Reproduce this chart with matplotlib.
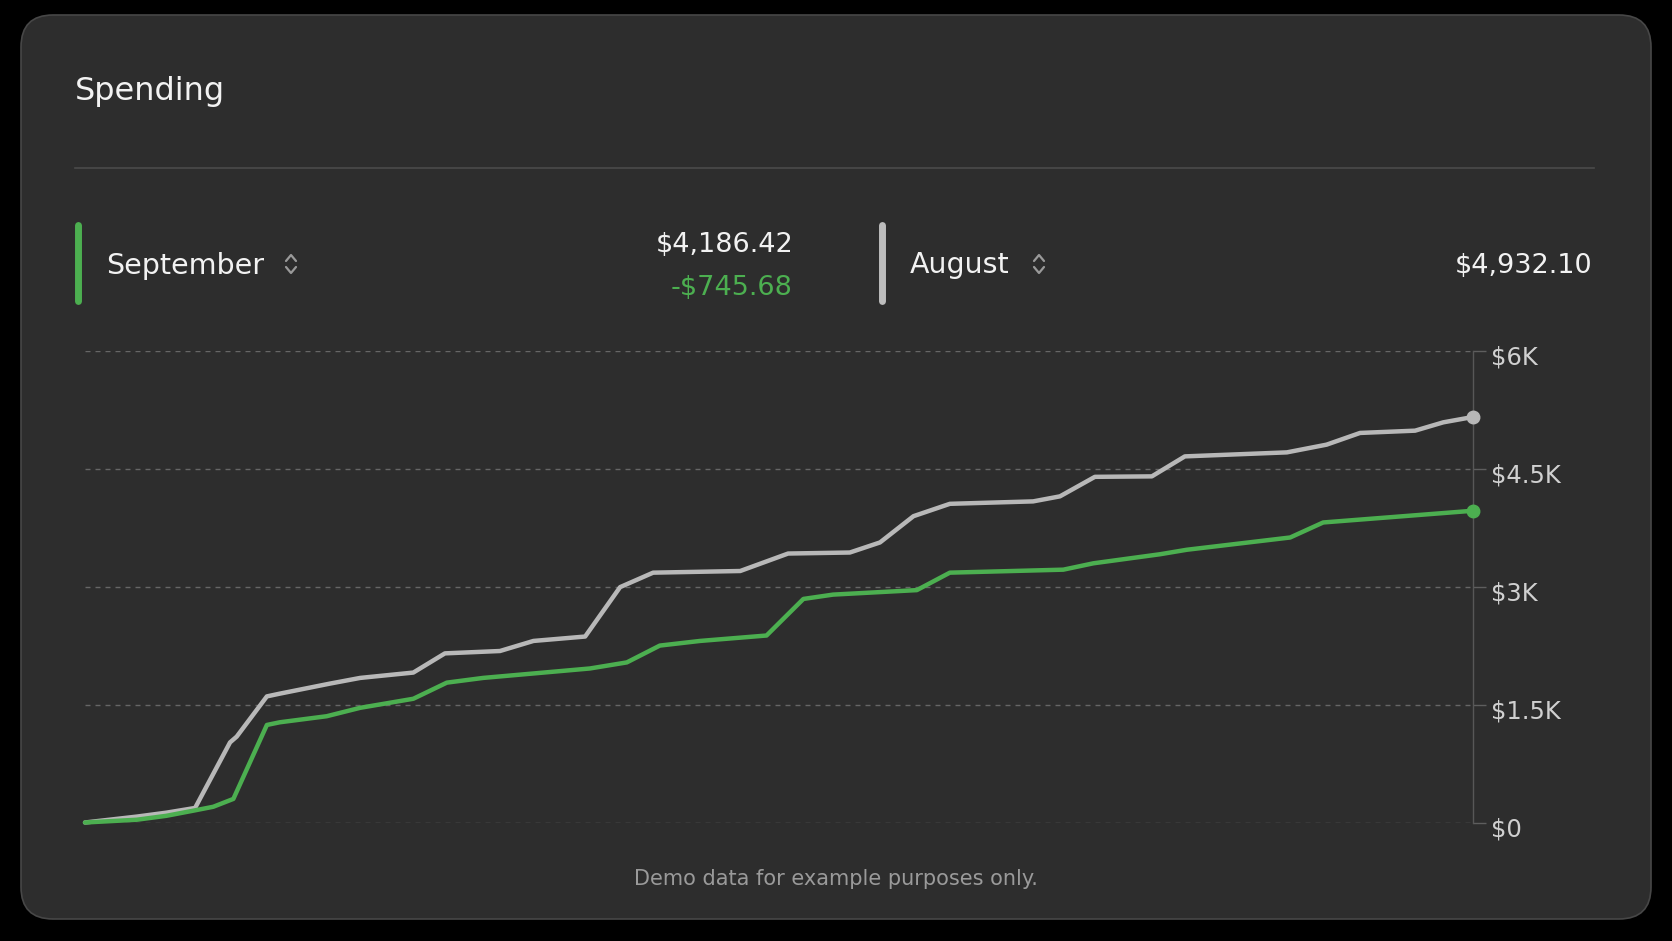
import matplotlib
matplotlib.use("Agg")
import matplotlib.pyplot as plt
from matplotlib.patches import FancyBboxPatch
from matplotlib.transforms import ScaledTranslation

# cumulative spending (x = position in month, days)
SEP_DAY = [1.0, 2.08, 2.7, 3.26, 3.68, 4.10, 4.80, 5.07, 6.05, 6.75, 7.86, 8.56, 9.32, 11.55,
           12.32, 13.01, 13.85, 15.24, 16.01, 16.63, 18.38, 19.07, 21.44, 22.07, 23.46, 24.02,
           26.18, 26.87, 30.0]
SEP_TOTAL = [0, 35, 85, 150, 200, 300, 1240, 1274, 1351, 1458, 1573, 1778, 1838, 1958,
             2035, 2249, 2308, 2377, 2842, 2897, 2954, 3176, 3214, 3295, 3410, 3467,
             3623, 3814, 3963]

AUG_DAY = [1.0, 2.08, 2.7, 3.30, 4.03, 4.17, 4.80, 5.07, 6.12, 6.75, 7.86, 8.52, 9.67, 10.37,
           11.45, 12.18, 12.87, 14.69, 15.69, 16.98, 17.61, 18.31, 19.07, 20.81, 21.37, 22.10,
           23.29, 23.98, 26.11, 26.94, 27.64, 28.79, 29.38, 30.0]
AUG_TOTAL = [0, 75, 125, 185, 1018, 1092, 1603, 1638, 1766, 1838, 1906, 2150, 2180, 2308,
             2364, 2992, 3176, 3197, 3419, 3432, 3560, 3894, 4051, 4082, 4146, 4394,
             4400, 4654, 4705, 4803, 4952, 4981, 5087, 5155]

Y_TICKS = [0, 1500, 3000, 4500, 6000]
Y_LABELS = ["$0", "$1.5K", "$3K", "$4.5K", "$6K"]

MONTHS = ["September", "August"]
MONTH_TOTALS = ["$4,186.42", "$4,932.10"]
DIFF_LABEL = "-$745.68"

GREEN = "#4caf50"
GRAY = "#b8b8b8"
TEXT = "#f2f2f2"
MUTED = "#9a9a9a"
CARD = "#2d2d2d"

W, H = 1672, 941
fig = plt.figure(figsize=(W / 100, H / 100), dpi=100, facecolor="black")

# background layer in pixel units
bg = fig.add_axes([0, 0, 1, 1])
bg.set_xlim(0, W)
bg.set_ylim(H, 0)
bg.axis("off")
bg.add_patch(FancyBboxPatch((21, 15), 1630, 904, boxstyle="round,pad=0,rounding_size=32",
                            fc=CARD, ec="#474747", lw=1.2))

bg.text(75, 100, "Spending", color=TEXT, fontsize=23, ha="left", va="baseline")
bg.plot([75, 1594], [168, 168], color="#4b4b4b", lw=1.2)


def chevrons(x, y):
    bg.plot([x - 5, x, x + 5], [y - 3, y - 9, y - 3], color=MUTED, lw=1.6,
            solid_capstyle="round", solid_joinstyle="round")
    bg.plot([x - 5, x, x + 5], [y + 3, y + 9, y + 3], color=MUTED, lw=1.6,
            solid_capstyle="round", solid_joinstyle="round")


# legend row
bg.plot([78, 78], [225, 301], color=GREEN, lw=5, solid_capstyle="round")
bg.text(106, 274, MONTHS[0], color=TEXT, fontsize=20.5, ha="left", va="baseline")
chevrons(291, 264)
bg.text(793, 252, MONTH_TOTALS[0], color=TEXT, fontsize=19.5, ha="right", va="baseline")
bg.text(793, 295, DIFF_LABEL, color=GREEN, fontsize=19.5, ha="right", va="baseline")

bg.plot([882, 882], [225, 301], color="#bdbdbd", lw=5, solid_capstyle="round")
bg.text(910, 273, MONTHS[1], color=TEXT, fontsize=20.5, ha="left", va="baseline")
chevrons(1039, 264)
bg.text(1592, 273, MONTH_TOTALS[1], color=TEXT, fontsize=19.5, ha="right", va="baseline")

bg.text(836, 879, "Demo data for example purposes only.", color=MUTED, fontsize=15,
        ha="center", va="center")

# chart
ax = fig.add_axes([85 / W, 1 - 822.5 / H, (1473 - 85) / W, (822.5 - 350.5) / H])
ax.set_facecolor("none")
ax.set_xlim(1, 30)
ax.set_ylim(0, 6000)

ax.plot(AUG_DAY, AUG_TOTAL, color=GRAY, lw=3.2, solid_joinstyle="round",
        solid_capstyle="round", clip_on=False, zorder=3)
ax.plot(SEP_DAY, SEP_TOTAL, color=GREEN, lw=3.2, solid_joinstyle="round",
        solid_capstyle="round", clip_on=False, zorder=4)
ax.plot(AUG_DAY[-1], AUG_TOTAL[-1], "o", ms=9, color=GRAY, clip_on=False, zorder=5)
ax.plot(SEP_DAY[-1], SEP_TOTAL[-1], "o", ms=9, color=GREEN, clip_on=False, zorder=5)

for s in ["left", "top", "bottom"]:
    ax.spines[s].set_visible(False)
ax.spines["right"].set_color("#575757")
ax.spines["right"].set_linewidth(1)

ax.set_xticks([])
ax.set_yticks(Y_TICKS)
ax.set_yticklabels(Y_LABELS)
ax.yaxis.tick_right()
ax.tick_params(axis="y", length=9, width=1, color="#5e5e5e", pad=4, labelsize=17.5,
               labelcolor="#d0d0d0")
ax.yaxis.grid(True, color="#666666", lw=1, dashes=(3.6, 3.6))
ax.set_axisbelow(True)
for lab in ax.get_yticklabels():
    lab.set_transform(lab.get_transform() + ScaledTranslation(0, -0.05, fig.dpi_scale_trans))

fig.savefig("out.png", dpi=100, facecolor="black")
